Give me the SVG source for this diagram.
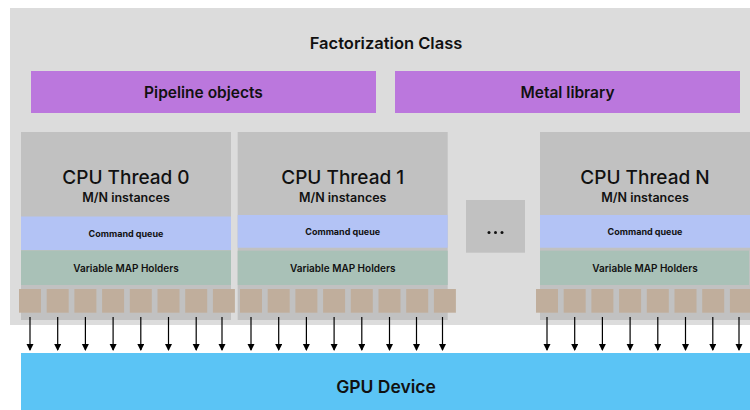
<svg xmlns="http://www.w3.org/2000/svg" width="750" height="410" viewBox="0 0 750 410">
<defs>
<marker id="ah" markerWidth="8" markerHeight="8" refX="6" refY="3.5" orient="auto" markerUnits="userSpaceOnUse">
<path d="M0,0 L7,3.5 L0,7 Z" fill="#000"/>
</marker>
<style>
text{font-family:Inter,"Liberation Sans",Arial,sans-serif;fill:#111;text-anchor:middle;dominant-baseline:central}
.outer{fill:#dcdcdc}
.purple{fill:#bb77dd}
.thr{fill:#c1c1c1}
.cq{fill:#b3c3f5}
.vm{fill:#a9c1b7}
.sq{fill:#c0ae9c}
.gpu{fill:#5bc4f5}
.t1{font-size:16.5px;font-weight:600}
.t2{font-size:15.5px;font-weight:600}
.th{font-size:19px;font-weight:500}
.mn{font-size:12.5px;font-weight:600}
.cqt{font-size:9px;font-weight:700}
.vmt{font-size:10px;font-weight:600}
.arr{stroke:#000;stroke-width:1.2;marker-end:url(#ah)}
</style>
</defs>
<g id="factorization-class">
<rect class="outer" x="10" y="8" width="740" height="317"/>
<text class="t1" x="386" y="43">Factorization Class</text>
</g>
<g id="pipeline-objects">
<rect class="purple" x="31" y="71" width="345" height="42"/>
<text class="t2" x="203.5" y="92">Pipeline objects</text>
</g>
<g id="metal-library">
<rect class="purple" x="395" y="71" width="345" height="42"/>
<text class="t2" x="567.5" y="92">Metal library</text>
</g>
<g id="cpu-thread-0">
<rect class="thr" x="21" y="132" width="210" height="188"/>
<text class="th" x="126" y="177">CPU Thread 0</text>
<text class="mn" x="126" y="197.5">M/N instances</text>
<rect class="cq" x="21" y="216.5" width="210" height="33.5"/>
<text class="cqt" x="126" y="233">Command queue</text>
<rect class="vm" x="21" y="250.5" width="210" height="34.5"/>
<text class="vmt" x="126" y="267.5">Variable MAP Holders</text>
<rect class="sq" x="19" y="289" width="22" height="23.7"/>
<rect class="sq" x="46.7" y="289" width="22" height="23.7"/>
<rect class="sq" x="74.4" y="289" width="22" height="23.7"/>
<rect class="sq" x="102.1" y="289" width="22" height="23.7"/>
<rect class="sq" x="129.8" y="289" width="22" height="23.7"/>
<rect class="sq" x="157.5" y="289" width="22" height="23.7"/>
<rect class="sq" x="185.2" y="289" width="22" height="23.7"/>
<rect class="sq" x="212.9" y="289" width="22" height="23.7"/>
</g>
<g id="cpu-thread-1">
<rect class="thr" x="237.7" y="132" width="210" height="188"/>
<text class="th" x="342.7" y="177">CPU Thread 1</text>
<text class="mn" x="342.7" y="197.5">M/N instances</text>
<rect class="cq" x="237.7" y="215" width="210" height="32.7"/>
<text class="cqt" x="342.7" y="231">Command queue</text>
<rect class="vm" x="237.7" y="250.7" width="210" height="34.3"/>
<text class="vmt" x="342.7" y="267.5">Variable MAP Holders</text>
<rect class="sq" x="240" y="289" width="22" height="23.7"/>
<rect class="sq" x="267.7" y="289" width="22" height="23.7"/>
<rect class="sq" x="295.4" y="289" width="22" height="23.7"/>
<rect class="sq" x="323.1" y="289" width="22" height="23.7"/>
<rect class="sq" x="350.8" y="289" width="22" height="23.7"/>
<rect class="sq" x="378.5" y="289" width="22" height="23.7"/>
<rect class="sq" x="406.2" y="289" width="22" height="23.7"/>
<rect class="sq" x="433.9" y="289" width="22" height="23.7"/>
</g>
<g id="ellipsis">
<rect class="thr" x="466" y="200" width="59" height="52.7"/>
<circle cx="489" cy="232.5" r="1.5" fill="#111"/>
<circle cx="495.5" cy="232.5" r="1.5" fill="#111"/>
<circle cx="502" cy="232.5" r="1.5" fill="#111"/>
</g>
<g id="cpu-thread-n">
<rect class="thr" x="540" y="132" width="210" height="188"/>
<text class="th" x="645" y="177">CPU Thread N</text>
<text class="mn" x="645" y="197.5">M/N instances</text>
<rect class="cq" x="540" y="215" width="210" height="32.7"/>
<text class="cqt" x="645" y="231">Command queue</text>
<rect class="vm" x="540" y="250.7" width="209" height="34.3"/>
<text class="vmt" x="645" y="267.5">Variable MAP Holders</text>
<rect class="sq" x="536" y="289" width="22" height="23.7"/>
<rect class="sq" x="563.7" y="289" width="22" height="23.7"/>
<rect class="sq" x="591.4" y="289" width="22" height="23.7"/>
<rect class="sq" x="619.1" y="289" width="22" height="23.7"/>
<rect class="sq" x="646.8" y="289" width="22" height="23.7"/>
<rect class="sq" x="674.5" y="289" width="22" height="23.7"/>
<rect class="sq" x="702.2" y="289" width="22" height="23.7"/>
<rect class="sq" x="729.9" y="289" width="22" height="23.7"/>
</g>
<g id="gpu-device">
<rect class="gpu" x="21" y="353" width="729" height="57"/>
<text class="t1" x="386" y="386.5" style="font-size:17.5px">GPU Device</text>
</g>
<g id="connectors">
<line class="arr" x1="30" y1="317" x2="30" y2="350"/>
<line class="arr" x1="57.7" y1="317" x2="57.7" y2="350"/>
<line class="arr" x1="85.4" y1="317" x2="85.4" y2="350"/>
<line class="arr" x1="113.1" y1="317" x2="113.1" y2="350"/>
<line class="arr" x1="140.8" y1="317" x2="140.8" y2="350"/>
<line class="arr" x1="168.5" y1="317" x2="168.5" y2="350"/>
<line class="arr" x1="196.2" y1="317" x2="196.2" y2="350"/>
<line class="arr" x1="222" y1="317" x2="222" y2="350"/>
<line class="arr" x1="251" y1="317" x2="251" y2="350"/>
<line class="arr" x1="278.7" y1="317" x2="278.7" y2="350"/>
<line class="arr" x1="306.4" y1="317" x2="306.4" y2="350"/>
<line class="arr" x1="334.1" y1="317" x2="334.1" y2="350"/>
<line class="arr" x1="361.8" y1="317" x2="361.8" y2="350"/>
<line class="arr" x1="389.5" y1="317" x2="389.5" y2="350"/>
<line class="arr" x1="416.5" y1="317" x2="416.5" y2="350"/>
<line class="arr" x1="442.5" y1="317" x2="442.5" y2="350"/>
<line class="arr" x1="547" y1="317" x2="547" y2="350"/>
<line class="arr" x1="574.7" y1="317" x2="574.7" y2="350"/>
<line class="arr" x1="602.4" y1="317" x2="602.4" y2="350"/>
<line class="arr" x1="630.1" y1="317" x2="630.1" y2="350"/>
<line class="arr" x1="657.8" y1="317" x2="657.8" y2="350"/>
<line class="arr" x1="685.5" y1="317" x2="685.5" y2="350"/>
<line class="arr" x1="712.8" y1="317" x2="712.8" y2="350"/>
<line class="arr" x1="739" y1="317" x2="739" y2="350"/>
</g>
</svg>
